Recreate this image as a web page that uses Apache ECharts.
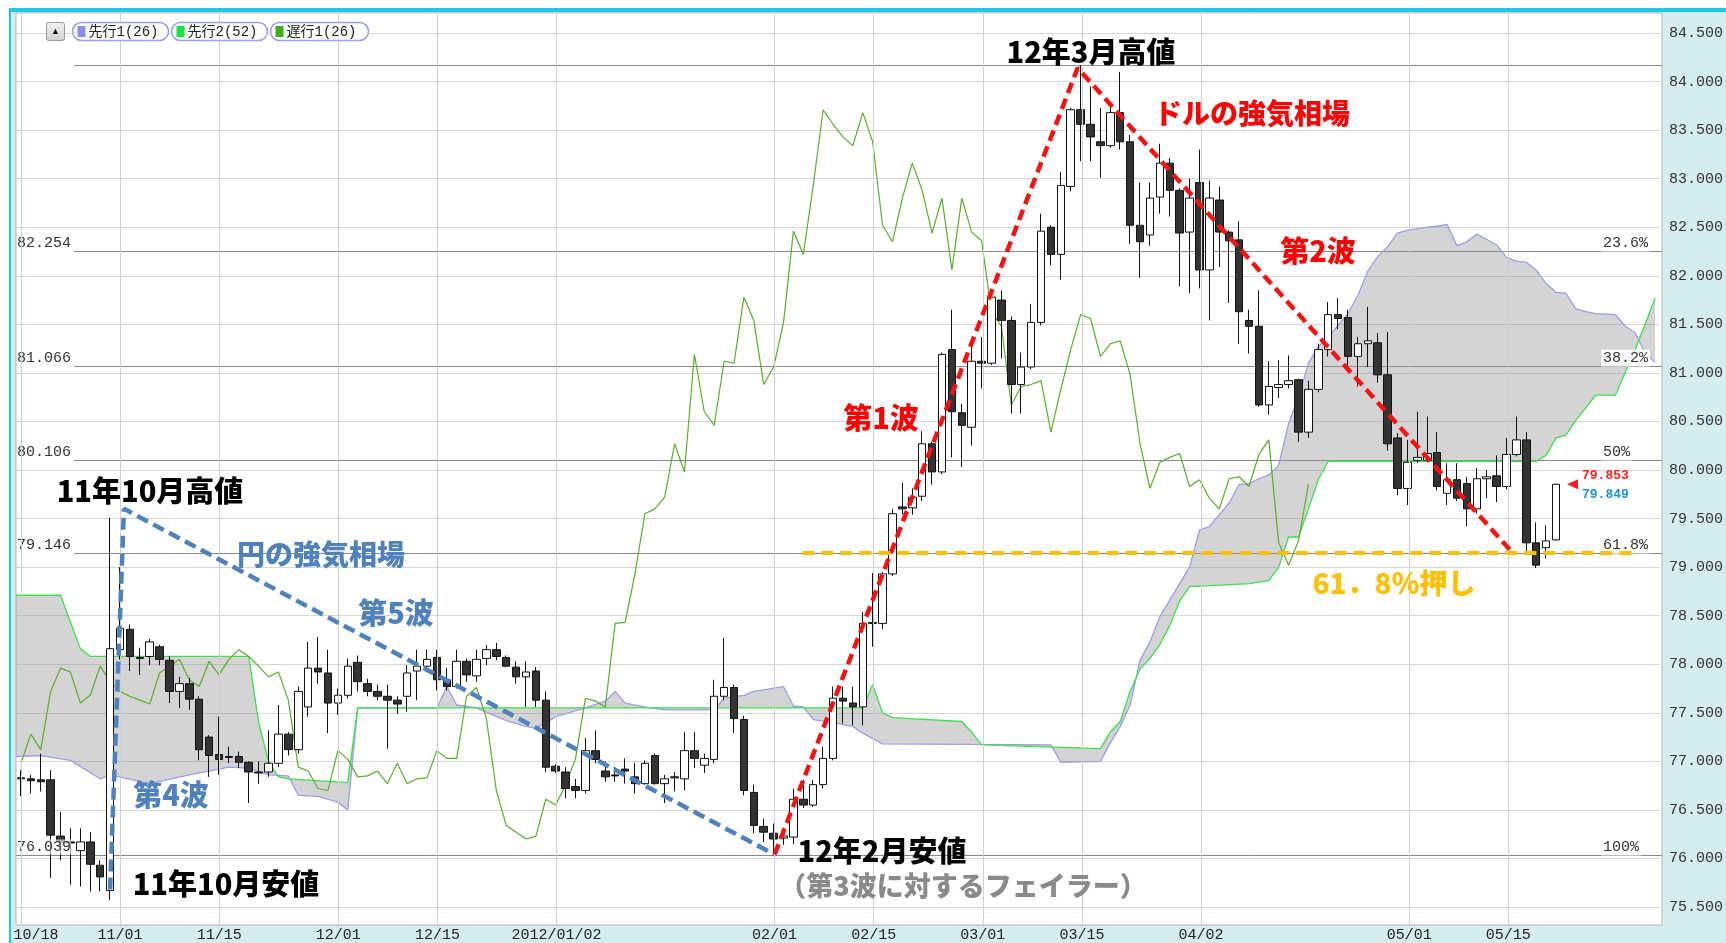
<!DOCTYPE html>
<html>
<head>
<meta charset="utf-8">
<script src="https://cdn.jsdelivr.net/npm/echarts@6/dist/echarts.min.js"></script>
<style>
html, body { margin: 0; padding: 0; background: #fff; }
#chart { width: 1726px; height: 943px; }
</style>
</head>
<body>
<div id="chart"></div>
<script>
// daily USD/JPY, from 2011-10-18 (index 0) to 2012-05-22 (index 155)
var opens = [
    76.83, 76.82, 76.81, 76.81, 76.23, 76.17, 76.08, 76.17, 75.93, 75.67,
    78.15, 78.36, 78.07, 78.08, 78.18, 78.04, 77.72, 77.80, 77.64, 77.25,
    77.07, 77.05, 77.05, 76.99, 76.89, 76.89, 76.98, 77.28, 77.12, 77.56,
    77.96, 77.91, 77.60, 77.68, 78.02, 77.80, 77.72, 77.67, 77.63, 77.67,
    77.93, 77.98, 78.07, 77.84, 77.77, 78.03, 77.88, 78.06, 78.15, 78.07,
    77.97, 77.87, 77.93, 77.63, 76.95, 76.89, 76.74, 76.70, 77.11, 76.90,
    76.86, 76.92, 76.84, 76.77, 77.06, 76.77, 76.84, 76.82, 77.11, 76.96,
    77.02, 77.67, 77.76, 77.43, 76.68, 76.33, 76.26, 76.21, 76.22, 76.61,
    76.55, 76.76, 77.03, 77.65, 77.60, 77.56, 78.42, 78.42, 78.93, 79.62,
    79.61, 79.73, 80.27, 79.98, 81.24, 80.59, 80.44, 81.12, 81.10, 81.75,
    81.54, 80.88, 81.06, 81.52, 82.50, 82.22, 82.92, 83.71, 83.56, 83.38,
    83.34, 83.68, 83.38, 82.52, 82.42, 82.81, 83.16, 82.88, 82.45, 82.96,
    82.06, 82.78, 82.45, 82.37, 81.54, 81.48, 80.67, 80.85, 80.88, 80.93,
    80.39, 80.83, 81.24, 81.60, 81.57, 81.17, 81.30, 81.31, 80.98, 80.33,
    79.81, 80.10, 80.10, 80.18, 79.76, 79.90, 79.86, 79.60, 79.91, 79.94,
    79.83, 80.16, 80.31, 79.25, 79.20, 79.28
];
var closes = [
    76.82, 76.80, 76.79, 76.24, 76.17, 76.16, 76.17, 75.94, 75.81, 78.16,
    78.37, 78.08, 78.06, 78.23, 78.05, 77.72, 77.80, 77.64, 77.12, 77.06,
    77.02, 77.04, 76.99, 76.89, 76.88, 76.98, 77.28, 77.12, 77.72, 77.96,
    77.92, 77.60, 77.68, 77.98, 77.82, 77.72, 77.67, 77.63, 77.59, 77.91,
    77.98, 78.05, 77.84, 77.77, 78.03, 77.89, 78.05, 78.15, 78.08, 77.98,
    77.87, 77.92, 77.63, 76.94, 76.90, 76.72, 76.70, 77.11, 77.02, 76.84,
    76.85, 76.90, 76.77, 76.98, 76.77, 76.82, 76.83, 77.11, 77.03, 77.03,
    77.67, 77.76, 77.44, 76.70, 76.34, 76.27, 76.20, 76.23, 76.61, 76.55,
    76.76, 77.03, 77.65, 77.62, 77.56, 78.42, 78.43, 78.93, 79.55, 79.60,
    79.72, 80.27, 79.98, 81.19, 80.60, 80.46, 81.12, 81.10, 81.78, 81.54,
    80.88, 81.06, 81.52, 82.46, 82.22, 82.93, 83.71, 83.56, 83.43, 83.34,
    83.68, 83.38, 82.52, 82.35, 82.80, 83.16, 82.88, 82.44, 82.80, 82.06,
    82.80, 82.45, 82.36, 81.63, 81.48, 80.67, 80.86, 80.88, 80.92, 80.39,
    80.83, 81.24, 81.60, 81.56, 81.17, 81.30, 81.33, 80.98, 80.27, 79.81,
    80.08, 80.13, 80.17, 79.83, 79.90, 79.71, 79.60, 79.91, 79.93, 79.83,
    80.16, 80.31, 79.25, 79.02, 79.27, 79.853
];
var lows = [
    76.64, 76.67, 76.69, 75.80, 75.98, 75.73, 75.71, 75.66, 75.66, 75.57,
    78.05, 77.93, 77.89, 77.99, 77.99, 77.60, 77.55, 77.53, 77.01, 76.84,
    76.86, 76.98, 76.93, 76.57, 76.77, 76.84, 76.94, 77.06, 77.08, 77.46,
    77.80, 77.29, 77.48, 77.65, 77.72, 77.67, 77.63, 77.13, 77.49, 77.51,
    77.63, 77.96, 77.73, 77.73, 77.75, 77.82, 77.82, 77.99, 78.04, 77.97,
    77.80, 77.56, 77.56, 76.89, 76.88, 76.62, 76.62, 76.67, 76.98, 76.79,
    76.79, 76.77, 76.67, 76.76, 76.76, 76.57, 76.69, 76.70, 76.93, 76.88,
    76.98, 77.63, 77.29, 76.65, 76.26, 76.17, 76.04, 76.14, 76.15, 76.52,
    76.53, 76.72, 77.01, 77.39, 77.37, 77.37, 78.18, 78.36, 78.91, 79.54,
    79.54, 79.68, 79.85, 79.96, 80.13, 80.03, 80.25, 80.84, 81.08, 81.15,
    80.58, 80.58, 81.04, 81.49, 82.11, 81.96, 82.87, 83.18, 83.18, 83.01,
    83.32, 83.30, 82.33, 81.98, 82.31, 82.64, 82.61, 81.89, 81.82, 81.87,
    81.54, 82.09, 81.72, 81.30, 81.20, 80.65, 80.57, 80.74, 80.84, 80.29,
    80.33, 80.80, 81.17, 81.45, 81.06, 80.86, 81.06, 80.90, 80.20, 79.74,
    79.64, 80.07, 80.08, 79.79, 79.64, 79.68, 79.42, 79.55, 79.71, 79.67,
    79.80, 80.14, 79.14, 78.99, 79.09, 79.27
];
var highs = [
    76.91, 76.86, 77.08, 76.91, 76.48, 76.31, 76.31, 76.27, 75.98, 79.51,
    79.00, 78.41, 78.17, 78.26, 78.20, 78.08, 77.87, 77.86, 77.67, 77.27,
    77.46, 77.15, 77.10, 77.00, 77.00, 77.32, 77.58, 77.30, 77.77, 78.23,
    78.28, 78.15, 77.75, 78.06, 78.09, 77.85, 77.79, 77.79, 77.67, 77.99,
    78.15, 78.15, 78.15, 77.96, 78.15, 78.06, 78.15, 78.20, 78.22, 78.09,
    78.03, 78.03, 77.97, 77.72, 76.97, 76.94, 76.82, 77.24, 77.32, 77.00,
    76.94, 77.03, 76.98, 77.01, 77.08, 76.86, 76.89, 77.30, 77.30, 77.08,
    77.84, 78.27, 77.79, 77.47, 76.76, 76.41, 76.36, 76.29, 76.72, 76.81,
    76.81, 77.15, 77.77, 77.77, 77.77, 78.54, 78.94, 78.95, 79.60, 79.87,
    79.81, 80.40, 80.29, 81.21, 81.65, 80.68, 81.28, 81.37, 81.84, 81.85,
    81.58, 81.21, 81.71, 82.64, 82.52, 83.07, 83.73, 84.17, 83.95, 83.73,
    83.73, 84.10, 83.45, 82.96, 82.96, 83.36, 83.21, 82.90, 83.00, 83.30,
    82.98, 82.92, 82.47, 82.56, 81.65, 81.85, 81.12, 81.13, 81.18, 80.94,
    80.92, 81.30, 81.73, 81.77, 81.65, 81.37, 81.68, 81.41, 81.42, 80.38,
    80.31, 80.60, 80.55, 80.39, 80.07, 80.07, 79.93, 80.02, 80.00, 80.15,
    80.33, 80.55, 80.39, 79.46, 79.43, 79.86
];

// ichimoku spans, [day index, price]
var senkou1 = [
    [-0.5, 77.05], [2, 77.06], [5, 77.01], [8, 76.82], [9, 76.86], [13, 76.77], [17, 76.86],
    [21, 76.94], [23, 76.93], [25, 76.86], [27, 76.85], [28, 76.65], [30, 76.64], [32, 76.58],
    [33, 76.50], [34, 77.55], [42, 77.55], [43, 77.77], [44, 77.58], [46, 77.55], [49, 77.42],
    [51, 77.36], [52, 77.34], [54, 77.46], [57, 77.55], [59, 77.62], [60, 77.72], [61, 77.60],
    [63, 77.56], [65, 77.53], [70, 77.53], [71, 77.65], [73, 77.68], [74, 77.72], [77, 77.77],
    [78, 77.57], [79, 77.56], [80, 77.43], [82, 77.40], [84, 77.36], [85, 77.29], [87, 77.18],
    [104, 77.17], [105, 76.99], [109, 77.00], [110, 77.19], [111, 77.36], [112, 77.58],
    [113, 78.04], [114, 78.23], [115, 78.49], [118, 79.00], [119, 79.38], [120, 79.42],
    [122, 79.66], [123, 79.85], [124, 79.86], [125, 79.91], [126, 79.95], [127, 80.05],
    [128, 80.48], [129, 80.75], [130, 81.10], [131, 81.27], [132, 81.37], [134, 81.61],
    [135, 81.80], [136, 82.05], [137, 82.20], [138, 82.30], [139, 82.44], [140, 82.47],
    [142, 82.50], [143, 82.51], [144, 82.53], [145, 82.31], [146, 82.35], [147, 82.43],
    [149, 82.32], [150, 82.19], [151, 82.15], [152, 82.14], [153, 82.06], [154, 81.92],
    [155, 81.83], [156, 81.82], [157, 81.66], [158, 81.63], [159, 81.61], [161, 81.60],
    [162, 81.48], [163, 81.41], [164, 81.20], [165, 81.11]
];
var senkou2 = [
    [-0.5, 78.71], [4, 78.71], [6, 78.16], [7, 78.08], [23, 78.08], [24, 77.40], [25, 77.00],
    [26, 76.84], [27, 76.82], [33, 76.78], [34, 77.55], [85, 77.55], [86, 77.79], [87, 77.50],
    [88, 77.45], [95, 77.41], [96, 77.30], [97, 77.17], [109, 77.13], [110, 77.30],
    [111, 77.41], [112, 77.72], [113, 77.95], [114, 78.06], [115, 78.20], [116, 78.40],
    [117, 78.65], [118, 78.80], [124, 78.83], [126, 78.86], [127, 79.00], [128, 79.31],
    [129, 79.31], [130, 79.60], [131, 79.90], [132, 80.09], [153, 80.09], [154, 80.15],
    [155, 80.33], [156, 80.36], [157, 80.51], [159, 80.77], [161, 80.77], [162, 81.01],
    [163, 81.24], [164, 81.50], [165, 81.77]
];
var chikouShift = 25;

// wave lines drawn on the chart, [day index, price]
var yenWave = [[9.0, 75.68], [10.4, 79.60], [76.1, 76.04]];
var dollarWave = [[76.1, 76.04], [106.7, 84.14], [150.6, 79.15]];
var retraceLine = [[78.9, 79.146], [163.3, 79.146]];

var fibLevels = [84.174, 82.254, 81.066, 80.106, 79.146, 76.039];
var fibNames = ['0%', '23.6%', '38.2%', '50%', '61.8%', '100%'];
var lastAsk = 79.853;
var lastBid = 79.849;

var tickDates = ['2011-10-18', '2011-11-01', '2011-11-15', '2011-12-01', '2011-12-15', '2012-01-02',
    '2012-02-01', '2012-02-15', '2012-03-01', '2012-03-15', '2012-04-02', '2012-05-01', '2012-05-15'];
var tickLabels = ['10/18', '11/01', '11/15', '12/01', '12/15', '2012/01/02',
    '02/01', '02/15', '03/01', '03/15', '04/02', '05/01', '05/15'];

// weekday calendar for the category axis (runs past the last candle for the cloud)
var days = [];
(function () {
    var d = new Date(2011, 9, 18);
    var p = function (n) { return (n < 10 ? '0' : '') + n; };
    while (days.length < 166) {
        if (d.getDay() !== 0 && d.getDay() !== 6)
            days.push(d.getFullYear() + '-' + p(d.getMonth() + 1) + '-' + p(d.getDate()));
        d.setDate(d.getDate() + 1);
    }
})();

var ohlc = opens.map(function (o, i) { return [o, closes[i], lows[i], highs[i]]; });
var chikou = closes.slice(chikouShift).map(function (c, i) { return [i, c]; });

var GL = 16, GR = 64;
var PLOT_RIGHT = 1726 - GR;
var mono = '"Liberation Mono", "DejaVu Sans Mono", monospace';
var jp = '"Noto Sans CJK JP", sans-serif';

var chart = echarts.init(document.getElementById('chart'));

var option = {
    animation: false,
    grid: [
        {left: GL, right: GR, top: 13, bottom: 18, show: false},
        {left: GL, right: GR, top: 33, bottom: 36, show: false}
    ],
    xAxis: [
        {
            type: 'category', gridIndex: 0, data: days, boundaryGap: true,
            axisLine: {show: false}, axisTick: {show: false}, splitLine: {show: false},
            axisLabel: {
                interval: function (i, v) { return tickDates.indexOf(v) >= 0; },
                formatter: function (v) {
                    var k = tickDates.indexOf(v);
                    return k === 0 ? '{first|' + tickLabels[k] + '}' : tickLabels[k];
                },
                color: '#222', fontFamily: mono, fontSize: 15, margin: 4,
                rich: {first: {color: '#222', fontFamily: mono, fontSize: 15, padding: [0, 0, 0, 30]}}
            }
        },
        {type: 'category', gridIndex: 1, data: days, boundaryGap: true, show: false},
        {type: 'value', gridIndex: 1, min: -0.5, max: days.length - 0.5, show: false}
    ],
    yAxis: [
        {type: 'value', gridIndex: 0, min: 0, max: 1, show: false},
        {
            type: 'value', gridIndex: 1, position: 'right', min: 75.5, max: 84.5, interval: 0.5,
            axisLine: {show: false}, axisTick: {show: false},
            splitLine: {lineStyle: {color: '#d6d6d6', width: 1}},
            axisLabel: {
                formatter: function (v) { return v.toFixed(3); },
                color: '#333', fontFamily: mono, fontSize: 15, margin: 9
            }
        }
    ],
    series: [
        {
            // vertical date grid lines over the whole plot box
            type: 'line', xAxisIndex: 0, yAxisIndex: 0, data: [], silent: true,
            markLine: {
                silent: true, symbol: ['none', 'none'], label: {show: false},
                lineStyle: {color: '#d0d0d0', type: 'solid', width: 1},
                data: tickDates.map(function (d) { return {xAxis: d}; })
            }
        },
        {
            type: 'custom', xAxisIndex: 2, yAxisIndex: 1, z: 1, silent: true,
            data: [[0, 80]],
            renderItem: function (params, api) {
                var pts = [];
                senkou1.forEach(function (p) { pts.push(api.coord(p)); });
                senkou2.slice().reverse().forEach(function (p) { pts.push(api.coord(p)); });
                return {type: 'polygon', shape: {points: pts}, style: {fill: 'rgba(120,120,120,0.32)'}};
            }
        },
        {
            name: '先行1(26)', type: 'line', xAxisIndex: 2, yAxisIndex: 1, data: senkou1,
            symbol: 'none', silent: true, z: 2, lineStyle: {color: '#9c9cf0', width: 1.3}
        },
        {
            name: '先行2(52)', type: 'line', xAxisIndex: 2, yAxisIndex: 1, data: senkou2,
            symbol: 'none', silent: true, z: 2, lineStyle: {color: '#3ddf4a', width: 1.3}
        },
        {
            name: '遅行1(26)', type: 'line', xAxisIndex: 2, yAxisIndex: 1, data: chikou,
            symbol: 'none', silent: true, z: 2, lineStyle: {color: '#5aae2e', width: 1.2}
        },
        {
            type: 'candlestick', xAxisIndex: 1, yAxisIndex: 1, data: ohlc, barWidth: 8, z: 3,
            itemStyle: {color: '#ffffff', color0: '#333333', borderColor: '#111', borderColor0: '#111', borderWidth: 1}
        },
        {
            type: 'line', xAxisIndex: 2, yAxisIndex: 1, data: yenWave, symbol: 'none', silent: true, z: 5,
            lineStyle: {color: '#4f81bd', width: 4.5, type: [12, 6]}
        },
        {
            type: 'line', xAxisIndex: 2, yAxisIndex: 1, data: dollarWave, symbol: 'none', silent: true, z: 5,
            lineStyle: {color: '#ff1010', width: 4.5, type: [11, 6]}
        },
        {
            type: 'line', xAxisIndex: 2, yAxisIndex: 1, data: retraceLine, symbol: 'none', silent: true, z: 5,
            lineStyle: {color: '#ffc000', width: 4, type: [12, 7]}
        }
    ]
};
chart.setOption(option);

var py = function (v) { return chart.convertToPixel({yAxisIndex: 1}, v); };

var g = [];
// frame and backgrounds
g.push({type: 'rect', z: -20, shape: {x: 11, y: 12, width: 1715, height: 931}, style: {fill: '#d6edf0'}});
g.push({type: 'rect', z: -19, shape: {x: 9, y: 8, width: 1717, height: 4}, style: {fill: '#1cc6ec'}});
g.push({type: 'rect', z: -19, shape: {x: 9, y: 8, width: 2, height: 935}, style: {fill: '#1cc6ec'}});
g.push({type: 'rect', z: -18, shape: {x: GL, y: 13, width: PLOT_RIGHT - GL, height: 912}, style: {fill: '#fff', stroke: '#b4b4b4', lineWidth: 1}});

// legend
g.push({type: 'rect', z: 20, shape: {x: 46.5, y: 22.5, width: 18, height: 18, r: 2},
    style: {fill: {type: 'linear', x: 0, y: 0, x2: 0, y2: 1, colorStops: [{offset: 0, color: '#f4f4f4'}, {offset: 1, color: '#cfcfcf'}]}, stroke: '#9a9a9a'}});
g.push({type: 'text', z: 21, style: {text: '▲', x: 55.5, y: 31.5, fill: '#111', font: '9px sans-serif', textAlign: 'center', textVerticalAlign: 'middle', verticalAlign: 'middle'}});
var legendItems = [['先行1(26)', '#8c8cf5', 72.5, 96], ['先行2(52)', '#19e640', 171.5, 96], ['遅行1(26)', '#3fae10', 270.5, 98]];
legendItems.forEach(function (it) {
    g.push({type: 'rect', z: 20, shape: {x: it[2], y: 22.5, width: it[3], height: 18, r: 9}, style: {fill: '#fff', stroke: '#9d9df2', lineWidth: 1.5}});
    g.push({type: 'rect', z: 21, shape: {x: it[2] + 5, y: 26, width: 8, height: 11}, style: {fill: it[1]}});
    g.push({type: 'text', z: 21, style: {text: it[0], x: it[2] + 16, y: 32, fill: '#222', font: '14px ' + mono + ', "Noto Sans CJK JP"', textAlign: 'left', textVerticalAlign: 'middle', verticalAlign: 'middle'}});
});

// fibonacci retracement lines and their labels
fibLevels.forEach(function (v, k) {
    var y = Math.round(py(v)) + 0.5;
    var x0 = fibNames[k] === '100%' ? GL : 74;
    g.push({type: 'line', z: 1, shape: {x1: x0, y1: y, x2: PLOT_RIGHT, y2: y}, style: {stroke: '#8a8a8a', lineWidth: 1}});
    if (fibNames[k] === '0%') return;
    g.push({type: 'text', z: 4, style: {text: v.toFixed(3), x: 17, y: y - 8.5, fill: '#333', font: '15px ' + mono,
        textAlign: 'left', textVerticalAlign: 'middle', verticalAlign: 'middle', backgroundColor: 'rgba(255,255,255,0.6)'}});
    g.push({type: 'text', z: 4, style: {text: fibNames[k], x: 1601, y: y - 8.5, fill: '#333', font: '15px ' + mono,
        textAlign: 'left', textVerticalAlign: 'middle', verticalAlign: 'middle', backgroundColor: 'rgba(255,255,255,0.85)', padding: [1, 2, 1, 2]}});
});

// last price tags
var ya = py(lastAsk);
g.push({type: 'polygon', z: 6, shape: {points: [[1567, ya], [1578, ya - 5], [1578, ya + 5]]}, style: {fill: '#ff2020'}});
g.push({type: 'text', z: 6, style: {text: lastAsk.toFixed(3), x: 1582, y: ya - 9, fill: '#ff2020', font: 'bold 13px ' + mono, textAlign: 'left', textVerticalAlign: 'middle', verticalAlign: 'middle'}});
g.push({type: 'text', z: 6, style: {text: lastBid.toFixed(3), x: 1582, y: py(lastBid) + 10, fill: '#1e90d6', font: 'bold 13px ' + mono, textAlign: 'left', textVerticalAlign: 'middle', verticalAlign: 'middle'}});

// annotations
var notes = [
    ['12年3月高値', 1091, 52, '#000', 29],
    ['ドルの強気相場', 1252, 113, '#ff0000', 28],
    ['第2波', 1318, 251, '#ff0000', 29],
    ['第1波', 881, 418, '#ff0000', 29],
    ['61．8％押し', 1394, 583, '#ffc000', 28],
    ['11年10月高値', 150, 491, '#000', 29],
    ['円の強気相場', 321, 554, '#4f81bd', 28],
    ['第5波', 396, 613, '#4f81bd', 29],
    ['第4波', 171, 795, '#4f81bd', 29],
    ['11年10月安値', 226, 884, '#000', 29],
    ['12年2月安値', 882, 851, '#000', 29],
    ['（第3波に対するフェイラー）', 963, 886, '#8a8a8a', 27]
];
notes.forEach(function (n) {
    g.push({type: 'text', z: 10, style: {text: n[0], x: n[1], y: n[2], fill: n[3], font: '900 ' + n[4] + 'px ' + jp,
        textAlign: 'center', textVerticalAlign: 'middle', verticalAlign: 'middle'}});
});

chart.setOption({graphic: g});
</script>
</body>
</html>
